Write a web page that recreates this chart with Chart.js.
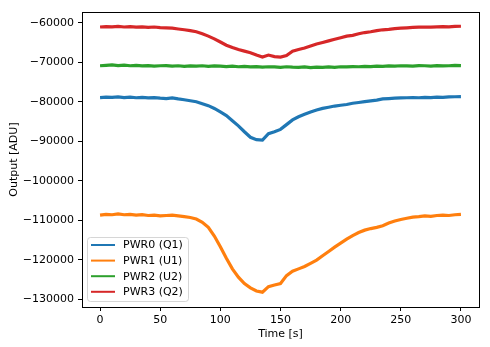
<!DOCTYPE html>
<html>
<head>
<meta charset="utf-8" />
<title>PWR output</title>
<script src="https://cdn.jsdelivr.net/npm/chart.js@4/dist/chart.umd.min.js"></script>
<style>
  html, body { margin: 0; padding: 0; background: #fff; }
  #chart { display: block; }
</style>
</head>
<body>
<canvas id="chart" width="490" height="347"></canvas>
<script>
// time axis [s]
const times = [0, 5, 10, 15, 20, 25, 30, 35, 40, 45, 50, 55, 60, 65, 70, 75, 80, 85, 90, 95,
  100, 105, 110, 115, 120, 125, 130, 135, 140, 145, 150, 155, 160, 165, 170, 175, 180, 185, 190, 195,
  200, 205, 210, 215, 220, 225, 230, 235, 240, 245, 250, 255, 260, 265, 270, 275, 280, 285, 290, 295, 300];

const seriesLabels = ['PWR0 (Q1)', 'PWR1 (U1)', 'PWR2 (U2)', 'PWR3 (Q2)'];
const seriesColors = ['#1f77b4', '#ff7f0e', '#2ca02c', '#d62728'];

const pwr0 = [-78950, -78850, -78900, -78800, -78950, -78850, -79000, -78900, -79050, -78950,
  -79100, -79200, -79050, -79300, -79500, -79750, -80000, -80500, -81000, -81700,
  -82600, -83500, -84800, -86100, -87600, -89000, -89600, -89700, -88100, -87600,
  -87000, -85800, -84600, -83800, -83200, -82600, -82100, -81700, -81400, -81100,
  -80900, -80700, -80400, -80200, -80000, -79800, -79600, -79300, -79200, -79100,
  -79050, -79000, -78950, -79000, -78900, -78950, -78850, -78900, -78800, -78750, -78700];

const pwr1 = [-108700, -108500, -108600, -108400, -108600, -108500, -108700, -108600, -108800, -108700,
  -108900, -108800, -108700, -108900, -109100, -109300, -109700, -110500, -111800, -114000,
  -116700, -119600, -122300, -124400, -126000, -127100, -127900, -128200, -126800, -126400,
  -126000, -124000, -122900, -122300, -121700, -120900, -120100, -119000, -117900, -116800,
  -115800, -114800, -113900, -113100, -112500, -112100, -111800, -111400, -110700, -110200,
  -109800, -109500, -109200, -109100, -108900, -109000, -108800, -108700, -108800, -108600, -108500];

const pwr2 = [-70900, -70800, -70700, -70850, -70750, -70900, -70800, -70950, -70850, -71000,
  -70900, -70850, -71000, -70900, -71050, -70950, -71000, -70900, -71050, -70950,
  -71000, -71100, -71000, -71150, -71050, -71200, -71100, -71250, -71150, -71200,
  -71300, -71150, -71250, -71300, -71200, -71350, -71250, -71300, -71200, -71300,
  -71150, -71200, -71100, -71150, -71050, -71100, -71000, -71050, -70950, -71000,
  -70900, -70950, -71000, -70850, -70900, -71000, -70850, -70950, -70900, -70800, -70850];

const pwr3 = [-61100, -61000, -61050, -60950, -61100, -61000, -61150, -61050, -61200, -61100,
  -61250, -61300, -61400, -61600, -61800, -62000, -62300, -62800, -63400, -64100,
  -64900, -65700, -66300, -66800, -67200, -67600, -68200, -68700, -68200, -68600,
  -68700, -68300, -67200, -66800, -66400, -65900, -65400, -65000, -64600, -64200,
  -63800, -63400, -63200, -62800, -62500, -62300, -62000, -61800, -61700, -61500,
  -61400, -61300, -61200, -61150, -61100, -61150, -61050, -61000, -61050, -60950, -60900];

const xTicks = [0, 50, 100, 150, 200, 250, 300];
const yTicks = [-130000, -120000, -110000, -100000, -90000, -80000, -70000, -60000];

const FONT = 'DejaVu Sans';

function toPoints(values) {
  return values.map((v, i) => ({ x: times[i], y: v }));
}

const allSeries = [pwr0, pwr1, pwr2, pwr3];

const datasets = allSeries.map((vals, i) => ({
  label: seriesLabels[i],
  data: toPoints(vals),
  borderColor: seriesColors[i],
  backgroundColor: seriesColors[i],
  borderWidth: 3.2,
  pointRadius: 0,
  tension: 0,
  fill: false
}));

// frame + matplotlib-like legend box in lower left
const framePlugin = {
  id: 'frame',
  afterDraw(chart) {
    const { ctx, chartArea: a } = chart;
    ctx.save();
    ctx.strokeStyle = '#000';
    ctx.lineWidth = 1;
    ctx.strokeRect(Math.round(a.left) + 0.5, Math.round(a.top) + 0.5,
      Math.round(a.right - a.left), Math.round(a.bottom - a.top));

    // legend
    const x0 = a.left + 5, w = 101, h = 64;
    const y0 = a.bottom - 6 - h;
    ctx.fillStyle = 'rgba(255,255,255,0.8)';
    ctx.strokeStyle = 'rgba(204,204,204,0.8)';
    ctx.lineWidth = 1;
    ctx.beginPath();
    ctx.roundRect(x0 + 0.5, y0 + 0.5, w, h, 3);
    ctx.fill();
    ctx.stroke();
    ctx.font = '11px "' + FONT + '"';
    ctx.textBaseline = 'middle';
    chart.data.datasets.forEach((ds, i) => {
      const yy = y0 + 8 + i * 15.6;
      ctx.strokeStyle = ds.borderColor;
      ctx.lineWidth = 2;
      ctx.beginPath();
      ctx.moveTo(x0 + 4, yy);
      ctx.lineTo(x0 + 28, yy);
      ctx.stroke();
      ctx.fillStyle = '#000';
      ctx.fillText(ds.label, x0 + 36, yy + 0.5);
    });
    ctx.restore();
  }
};

new Chart(document.getElementById('chart').getContext('2d'), {
  type: 'line',
  data: { datasets: datasets },
  options: {
    responsive: false,
    animation: false,
    layout: { padding: { top: 12, right: 11, left: 0, bottom: 0 } },
    plugins: {
      legend: { display: false },
      tooltip: { enabled: false }
    },
    scales: {
      x: {
        type: 'linear',
        min: -15,
        max: 315,
        afterBuildTicks: (axis) => { axis.ticks = xTicks.map(v => ({ value: v })); },
        afterFit: (scale) => { scale.height = 40; },
        grid: { display: true, drawOnChartArea: false, drawTicks: true, tickLength: 4, color: '#000', tickColor: '#000' },
        border: { display: false },
        ticks: { color: '#000', padding: 3, maxRotation: 0, font: { family: FONT, size: 11 } },
        title: { display: true, text: 'Time [s]', color: '#000', padding: { top: 0, bottom: 6 }, font: { family: FONT, size: 11 } }
      },
      y: {
        min: -131950,
        max: -57300,
        afterBuildTicks: (axis) => { axis.ticks = yTicks.map(v => ({ value: v })); },
        afterFit: (scale) => { scale.width = 82; },
        grid: { display: true, drawOnChartArea: false, drawTicks: true, tickLength: 4, color: '#000', tickColor: '#000' },
        border: { display: false },
        ticks: {
          color: '#000',
          padding: 4,
          font: { family: FONT, size: 11 },
          callback: (v) => String(v).replace('-', '\u2212')
        },
        title: { display: true, text: 'Output [ADU]', color: '#000', padding: { top: 8, bottom: 0 }, font: { family: FONT, size: 11 } }
      }
    }
  },
  plugins: [framePlugin]
});
</script>
</body>
</html>
